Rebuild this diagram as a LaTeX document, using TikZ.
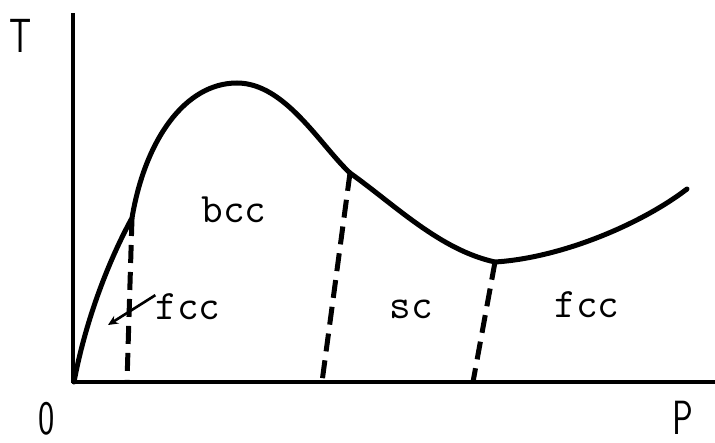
\documentclass[tikz,border=0pt]{standalone}
\usepackage{fontspec}
\usetikzlibrary{arrows.meta}
\tikzset{
  axisline/.style={line width=3.6pt},
  phasecurve/.style={line width=5pt, line join=round, line cap=round},
  boundary/.style={line width=5pt, dash pattern=on 18pt off 9pt},
  phaselabel/.style={font=\ttfamily\fontsize{42}{42}\selectfont, anchor=base, inner sep=0pt},
  axislabel/.style={font=\sffamily\fontsize{48}{48}\selectfont, anchor=base, inner sep=0pt},
  pointer/.style={line width=2.6pt, -{Stealth[length=10pt,width=9pt]}}
}
\begin{document}
\begin{tikzpicture}[x=1pt,y=-1pt]
\useasboundingbox (0,0) rectangle (715,443);
% key points
\coordinate (O) at (74,382);
\coordinate (A) at (132,218);
\coordinate (pk) at (237,83);
\coordinate (B) at (350,173);
\coordinate (C) at (495,262);
\coordinate (E) at (687,189);
\coordinate (A0) at (127,382);
\coordinate (B0) at (322,382);
\coordinate (C0) at (473,382);
\coordinate (ytop) at (73,13);
\coordinate (yorig) at (73,383.5);
\coordinate (xend) at (715,382);
% axes
\draw[axisline] (yorig) -- (ytop);
\draw[axisline] (71.5,382) -- (xend);
% phase boundary curve
\draw[phasecurve] (O) .. controls (86,318) and (110,258) .. (A)
  .. controls (145,140) and (185,83) .. (pk)
  .. controls (285,83) and (320,145) .. (B)
  .. controls (395,205) and (440,250) .. (C)
  .. controls (560,258) and (640,225) .. (E);
% dashed boundaries
\draw[boundary] (A) -- (A0);
\draw[boundary] (B) -- (B0);
\draw[boundary] (C) -- (C0);
% labels
\node[phaselabel] (bcc) at (234,223) {bcc};
\node[phaselabel] (fccL) at (188,320) {fcc};
\node[phaselabel] (sc) at (411,319) {sc};
\node[phaselabel] (fccR) at (587,318) {fcc};
\coordinate (tip) at (108,325);
\draw[pointer] (fccL.west) ++(0,-12) coordinate (ps) (ps) -- (tip);
\node[axislabel] (T) at (21,53) {\scalebox{0.72}[1]{T}};
\node[axislabel] (zero) at (47,435) {\scalebox{0.72}[1]{0}};
\node[axislabel] (P) at (683,435) {\scalebox{0.72}[1]{P}};
\end{tikzpicture}
\end{document}
